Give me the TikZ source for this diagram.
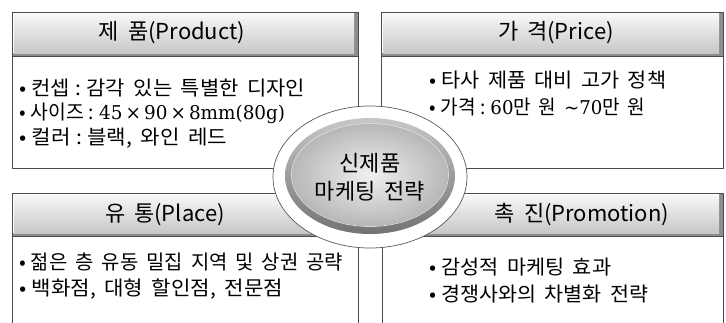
\documentclass[tikz,border=0pt]{standalone}
\usepackage{fontspec}
\usepackage{graphicx}
\setmainfont{Noto Sans CJK KR}[WordSpace=1.8]
\newfontfamily\numf{DejaVu Serif}
\newsavebox\fitbox
\newcommand\fitto[2]{%
  \sbox\fitbox{#2}%
  \pgfmathsetmacro\fitfac{#1/\wd\fitbox}%
  \scalebox{\fitfac}[1]{\usebox\fitbox}}
\newcommand\bul{•\hspace{5pt}}
\newcommand\csep{\hspace{5pt}:\hspace{5pt}}
\newcommand\numtext[1]{{\numf\fontsize{19}{24}\selectfont #1}}
\tikzset{
  boxline/.style={draw=black!70, line width=0.9pt},
  titletext/.style={font=\fontsize{22}{26}\selectfont, inner sep=0pt},
  itemtext/.style={anchor=west, font=\fontsize{20}{24}\selectfont, inner sep=0pt},
  centertext/.style={font=\fontsize{22}{26}\selectfont, inner sep=0pt},
}
\newcommand\mkheader[4]{%
  \fill[black!45] (#1,#2) rectangle (#3,#4);
  \shade[top color=black!3, bottom color=black!22] ({#1+1.5},{#2+1.5}) rectangle ({#3-4},{#4-2.5});
  \draw[white, line width=0.7pt] ({#1+1.8},{#4-3}) -- ({#1+1.8},{#2+1.8}) -- ({#3-4.5},{#2+1.8});
  \draw[boxline] (#1,#2) rectangle (#3,#4);
}
\begin{document}
\begin{tikzpicture}[x=1pt,y=-1pt]
\useasboundingbox (0,0) rectangle (726,322);
\clip (0,0) rectangle (726,322);
\fill[white] (0,0) rectangle (726,322);
% bodies
\draw[boxline, fill=white] (12,56) rectangle (358,168);
\draw[boxline, fill=white] (381,56) rectangle (723,168);
\draw[boxline, fill=white] (12,236) rectangle (358,345);
\draw[boxline, fill=white] (382,236) rectangle (723,345);
% headers
\mkheader{12}{12}{358}{56}
\mkheader{381}{12}{723}{56}
\mkheader{12}{193}{358}{236}
\mkheader{382}{193}{723}{236}
% titles
\node[titletext] (tP) at (172,33) {제 품(Product)};
\node[titletext] (tR) at (556,33) {가 격(Price)};
\node[titletext] (tL) at (165,215) {유 통(Place)};
\node[titletext] (tM) at (582,215) {촉 진(Promotion)};
% items
\node[itemtext] (p1) at (19,88) {\fitto{286}{\bul 컨셉\csep 감각 있는 특별한 디자인}};
\node[itemtext] (p2) at (19,113) {\fitto{266}{\bul 사이즈\csep\numtext{45\,×\,90\,×\,8mm(80g)}}};
\node[itemtext] (p3) at (19,138) {\fitto{208}{\bul 컬러\csep 블랙, 와인 레드}};
\node[itemtext] (r1) at (429,80) {\fitto{237}{\bul 타사 제품 대비 고가 정책}};
\node[itemtext] (r2) at (429,107) {\fitto{216}{\bul 가격\csep\numtext{60}만 원 \numtext{\textasciitilde 70}만 원}};
\node[itemtext] (l1) at (19,262) {\fitto{324}{\bul 젊은 층 유동 밀집 지역 및 상권 공략}};
\node[itemtext] (l2) at (19,289) {\fitto{264}{\bul 백화점, 대형 할인점, 전문점}};
\node[itemtext] (m1) at (429,267) {\fitto{182}{\bul 감성적 마케팅 효과}};
\node[itemtext] (m2) at (429,294) {\fitto{219}{\bul 경쟁사와의 차별화 전략}};
% central ellipse
\draw[draw=black!65, line width=0.7pt, fill=white] (370,177) ellipse [x radius=97pt, y radius=71pt];
\shade[top color=black!22, bottom color=black!55] (370,176) ellipse [x radius=85pt, y radius=58pt];
\shade[inner color=black!6, outer color=black!28] (370,175) ellipse [x radius=78pt, y radius=51pt];
\draw[white!85!black, line width=0.8pt] (370,175) ellipse [x radius=78.5pt, y radius=51.5pt];
\node[centertext] (c1) at (370,163) {신제품};
\node[centertext] (c2) at (370,191) {마케팅 전략};
\end{tikzpicture}
\end{document}
